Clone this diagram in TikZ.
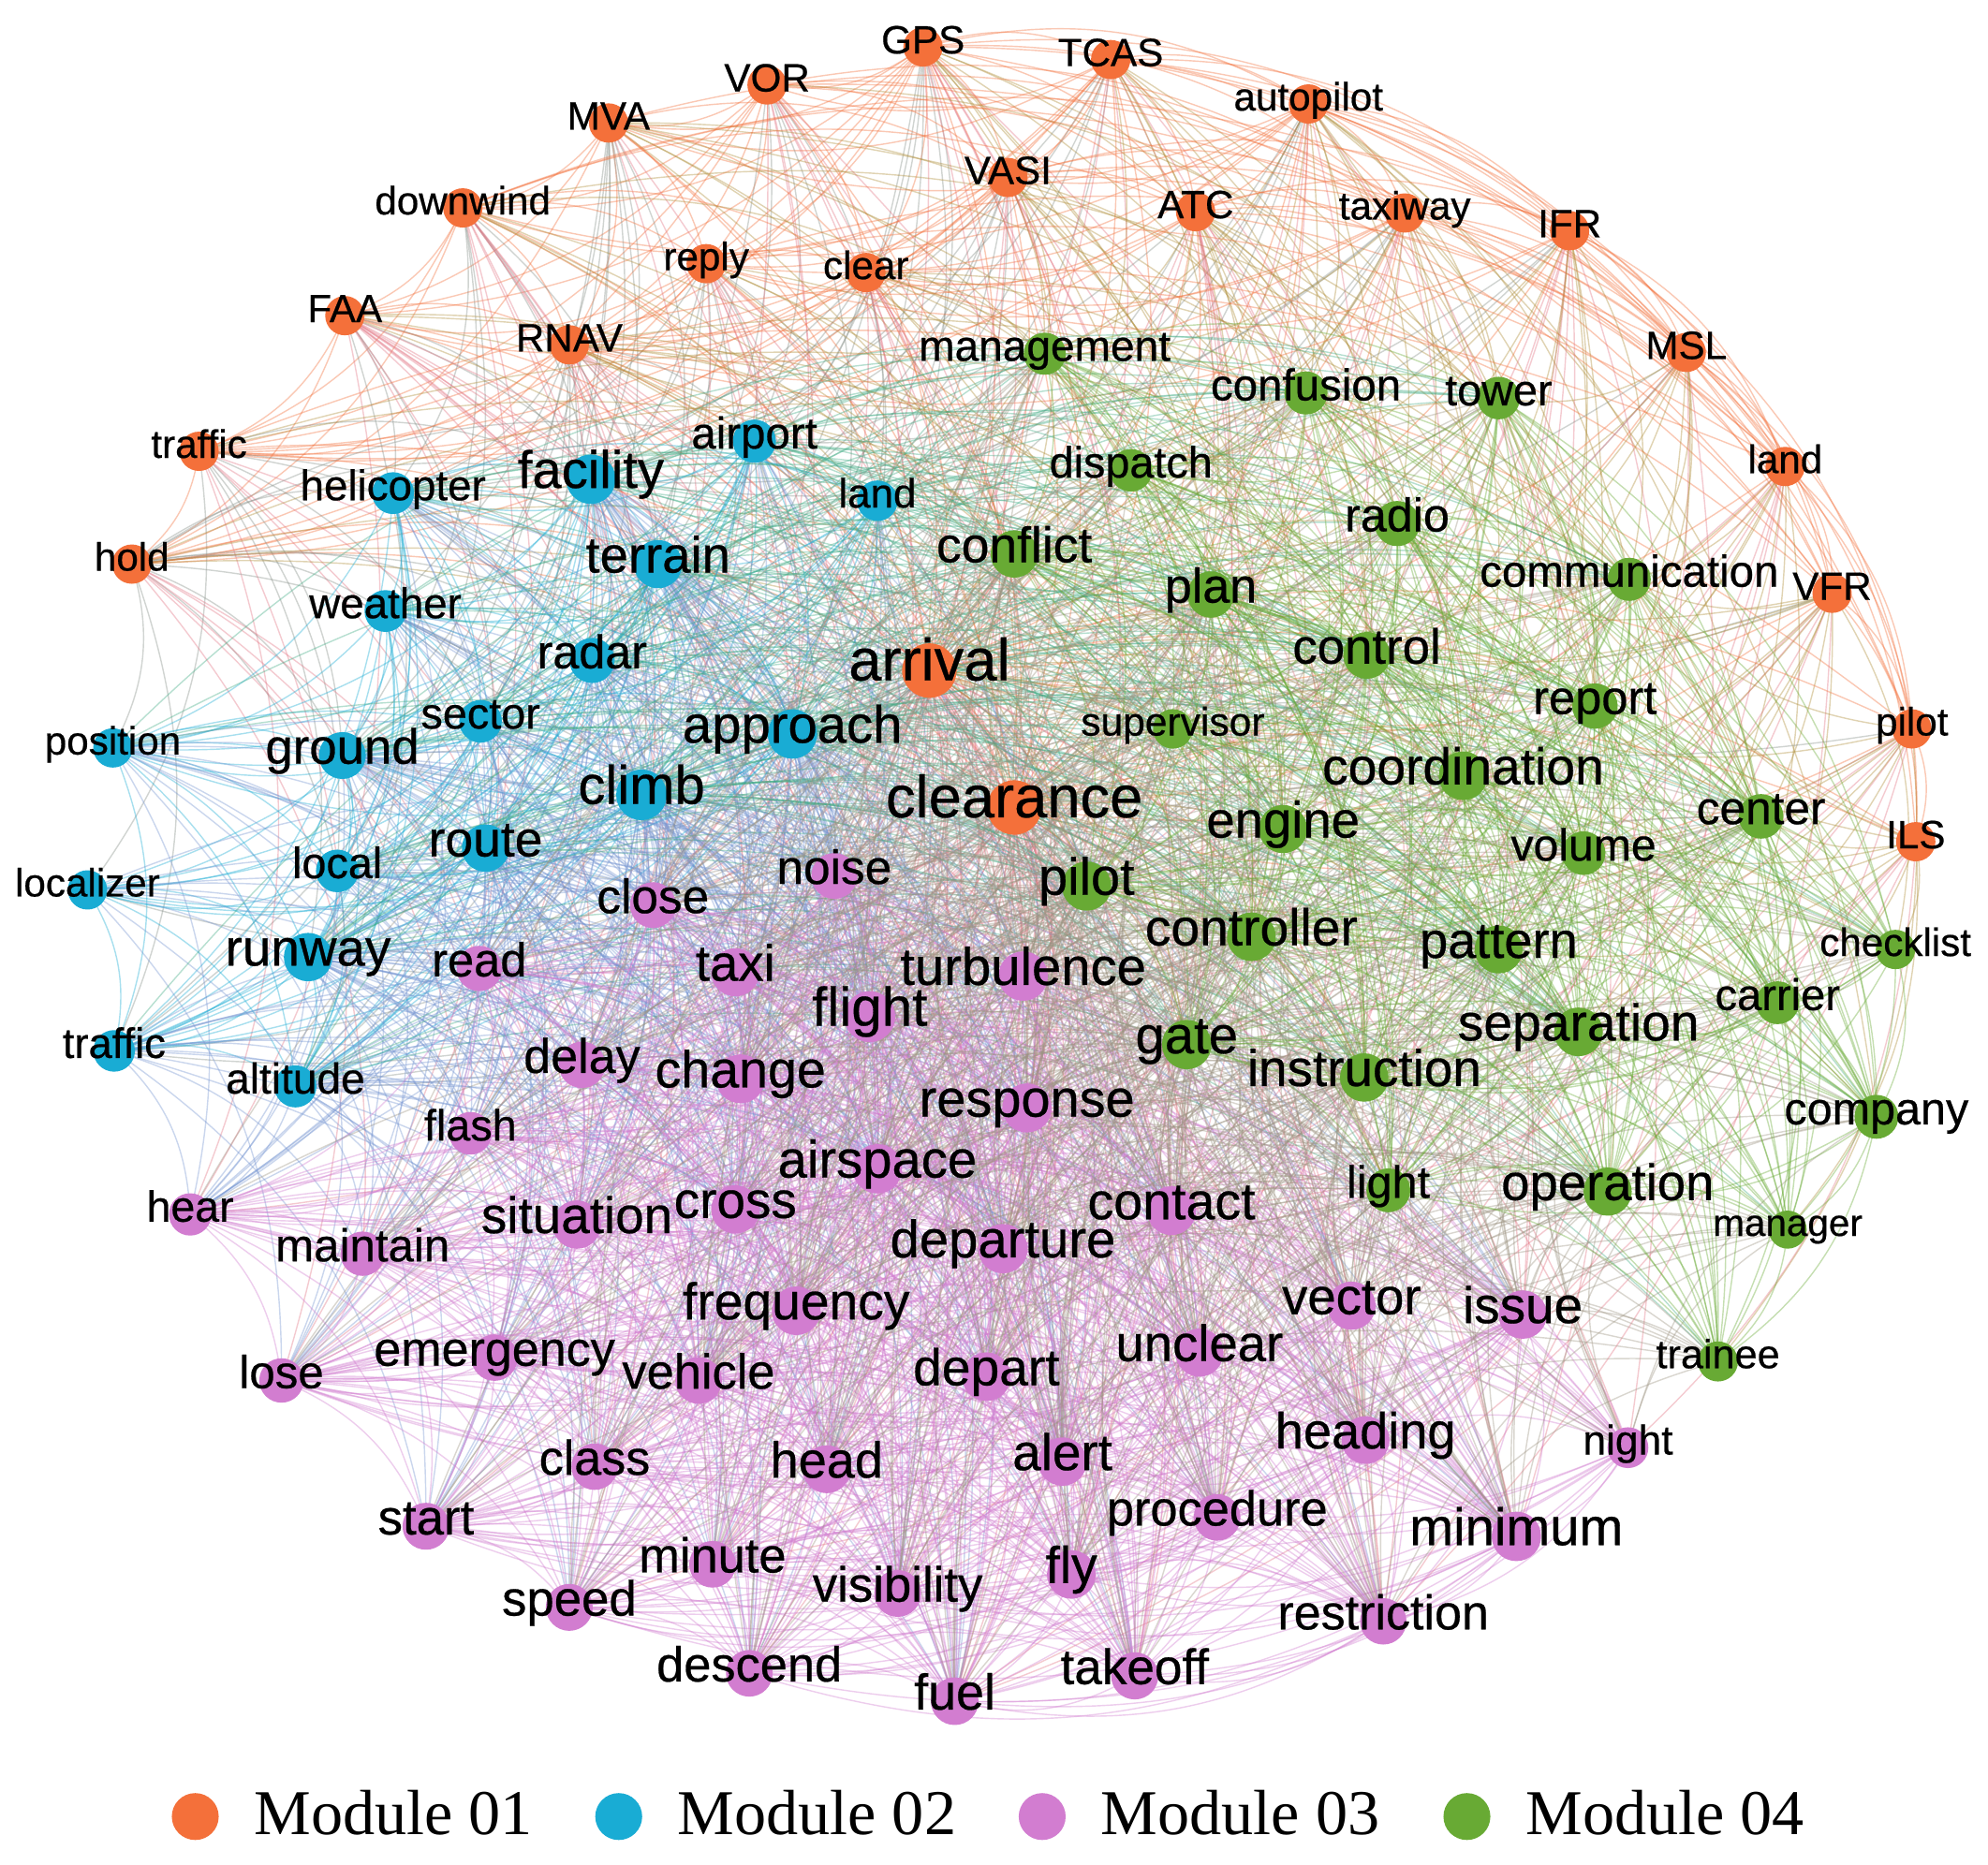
\documentclass[tikz,border=0pt]{standalone}
\usepackage{fontspec}
\newfontfamily\lblfont[FakeBold=0.5]{Liberation Sans}
\newfontfamily\legfont{Liberation Serif}
\definecolor{m1}{RGB}{244,112,58}
\definecolor{m2}{RGB}{25,172,212}
\definecolor{m3}{RGB}{210,125,208}
\definecolor{m4}{RGB}{104,170,52}
\pgfdeclarelayer{back}
\pgfdeclarelayer{edges}
\pgfdeclarelayer{labels}
\pgfsetlayers{back,edges,main,labels}
\def\px{0.01354cm}
\tikzset{
  dot/.style={circle, inner sep=0pt, draw=none},
  lab/.style={anchor=base, inner sep=0pt, text=black},
  lnk/.style={line width=0.4pt, draw opacity=0.38},
}
\def\A{0.12}
\def\L{5}
\expandafter\def\csname F1\endcsname{2.0}
\expandafter\def\csname F2\endcsname{1.1}
\expandafter\def\csname F3\endcsname{1.0}
\expandafter\def\csname F4\endcsname{1.0}
\begin{document}
\begin{tikzpicture}[x=0.01354cm, y=-0.01354cm]
\useasboundingbox (0,0) rectangle (1568,1471);
\begin{pgfonlayer}{back}
\fill[white] (0,0) rectangle (1568,1471);
\end{pgfonlayer}
\foreach \nx/\ny/\nm/\nf/\nt [count=\i] in {
728/37/1/12/GPS, 876/47/1/12/TCAS, 605/67/1/12/VOR, 1032/82/1/12/autopilot,
480/97/1/12/MVA, 795/140/1/12/VASI, 365/164/1/12/downwind, 943/167/1/12/ATC,
1108/168/1/12/taxiway, 1238/182/1/12/IFR, 557/208/1/12/reply, 683/215/1/12/clear,
272/249/1/12/FAA, 449/272/1/12/RNAV, 1330/278/1/12/MSL, 157/356/1/12/traffic,
1408/368/1/12/land, 104/445/1/12/hold, 1445/468/1/12/VFR, 733/529/1/18/arrival,
1508/575/1/12/pilot, 800/637/1/18/clearance, 1511/664/1/12/ILS,
595/348/2/13.5/airport, 310/389/2/13/helicopter, 466/378/2/16/facility,
692/395/2/12.5/land, 519/445/2/15.5/terrain, 304/482/2/13/weather,
467/521/2/14.3/radar, 379/569/2/13.3/sector, 625/579/2/16/approach,
89/590/2/12/position, 270/596/2/15/ground, 506/627/2/16.5/climb,
383/669/2/15.2/route, 266/687/2/13.3/local, 69/702/2/12/localizer,
243/755/2/15.6/runway, 90/829/2/12.9/traffic, 233/857/2/13.1/altitude,
658/691/3/14.6/noise, 515/714/3/14.6/close, 378/764/3/14.4/read,
580/767/3/15.5/taxi, 807/770/3/16/turbulence, 686/802/3/16.6/flight,
459/840/3/14.8/delay, 584/851/3/15.8/change, 810/874/3/15.9/response,
371/894/3/13.3/flash, 692/922/3/16/airspace, 150/958/3/13.2/hear,
580/954/3/15.6/cross, 455/966/3/15.6/situation, 924/955/3/15.8/contact,
286/989/3/14/maintain, 791/985/3/16/departure, 628/1034/3/15.7/frequency,
1066/1030/3/15.5/vector, 1201/1037/3/15.6/issue, 390/1071/3/14.8/emergency,
946/1067/3/15.5/unclear, 222/1089/3/14/lose, 551/1089/3/14.9/vehicle,
778/1086/3/15.7/depart, 1077/1136/3/15.4/heading, 1284/1142/3/12.6/night,
469/1157/3/14.8/class, 652/1159/3/15.4/head, 838/1153/3/15.6/alert,
960/1197/3/14.9/procedure, 336/1204/3/15/start, 1196/1212/3/16/minimum,
562/1234/3/14.9/minute, 845/1242/3/15.7/fly, 708/1257/3/15/visibility,
449/1268/3/15/speed, 1091/1279/3/14.8/restriction, 591/1320/3/14.9/descend,
895/1322/3/15.1/takeoff, 753/1342/3/15.3/fuel,
824/279/4/13.1/management, 1030/310/4/13.5/confusion, 1182/314/4/13.3/tower,
892/371/4/13.3/dispatch, 1102/413/4/14.3/radio, 800/437/4/15.2/conflict,
1285/457/4/13.5/communication, 955/469/4/14.8/plan, 1078/517/4/15/control,
1258/557/4/14.4/report, 925/575/4/12.1/supervisor, 1154/612/4/15.7/coordination,
1389/644/4/14.1/center, 1012/654/4/15.5/engine, 1249/673/4/13.7/volume,
857/699/4/15.9/pilot, 987/739/4/15.7/controller, 1182/749/4/15.4/pattern,
1495/749/4/12/checklist, 1402/791/4/13.4/carrier, 1245/814/4/15.7/separation,
936/824/4/16/gate, 1076/850/4/15.6/instruction, 1480/881/4/13.8/company,
1095/939/4/13.8/light, 1268/940/4/15.5/operation, 1410/970/4/11.5/manager,
1355/1074/4/12.3/trainee}{
  \node[dot, fill=m\nm, minimum size={(2*\nf+7)*\px}] (n\i) at (\nx,\ny) {};
  \begin{pgfonlayer}{labels}
  \node[lab, font=\lblfont\fontsize{\nf}{\nf}\selectfont] (t\i) at (\nx,{\ny+0.43*\nf}) {\nt};
  \end{pgfonlayer}
  \expandafter\xdef\csname X\i\endcsname{\nx}
  \expandafter\xdef\csname Y\i\endcsname{\ny}
  \expandafter\xdef\csname M\i\endcsname{\nm}
  \pgfmathsetmacro\nw{\nf-9}
  \expandafter\xdef\csname W\i\endcsname{\nw}
}
\pgfmathsetseed{4242}
\begin{pgfonlayer}{edges}
\foreach \i in {1,...,109}{
  \pgfmathtruncatemacro\jstart{\i+1}
  \foreach \j in {\jstart,...,110}{
    \edef\mi{\csname M\i\endcsname}\edef\mj{\csname M\j\endcsname}
    \ifnum\mi=\mj \edef\ff{\csname F\mi\endcsname}\else\def\ff{0.45}\fi
    \pgfmathparse{(rnd < \A*\csname W\i\endcsname*\csname W\j\endcsname*\ff*exp(-veclen((\csname X\i\endcsname-\csname X\j\endcsname)/100,(\csname Y\i\endcsname-\csname Y\j\endcsname)/100)/\L)) ? 1 : 0}
    \ifdim\pgfmathresult pt>0.5pt
      \draw[lnk, draw=m\mi!50!m\mj] (n\i.center) to[bend left=22] (n\j.center);
    \fi
  }
}
\end{pgfonlayer}
\foreach \lx/\lt [count=\k] in {154/01,488/02,822/03,1157/04}{
  \node[dot, fill=m\k, minimum size={37*\px}] (leg\k) at (\lx,1433) {};
  \node[anchor=base west, inner sep=0pt, font=\legfont\fontsize{19.4}{20}\selectfont] (legt\k) at ({\lx+46},1447) {Module \lt};
}
\end{tikzpicture}
\end{document}
